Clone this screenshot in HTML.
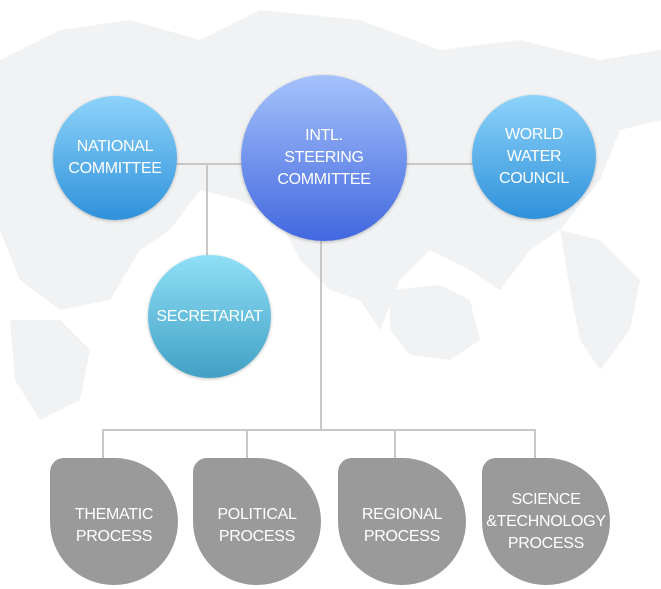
<!DOCTYPE html>
<html><head><style>
body{margin:0;width:661px;height:589px;background:#fff;position:relative;overflow:hidden;font-family:"Liberation Sans",sans-serif}
.c{position:absolute;border-radius:50%;color:#fff;display:flex;align-items:center;justify-content:center;text-align:center;font-size:16px;line-height:22px;box-shadow:0 1px 3px rgba(0,0,0,.25);letter-spacing:-0.3px}
.l{position:absolute;background:#c8c8c8}
.b{position:absolute;width:128px;height:127px;top:458px;background:#9a9a9a;border-radius:14px 64px 64px 64px;color:#fff;display:flex;align-items:center;justify-content:center;text-align:center;font-size:16px;line-height:22px;letter-spacing:-0.3px;box-sizing:border-box;padding-top:8px}
</style></head><body>
<svg style="position:absolute;left:0;top:0" width="661" height="589">
<g fill="#f1f2f3">
<path d="M0 60 L60 30 L130 20 L200 40 L260 10 L360 20 L440 50 L520 40 L600 60 L661 50 L661 120 L620 130 L600 180 L560 230 L530 250 L500 290 L470 270 L430 250 L400 280 L380 330 L360 300 L330 290 L300 260 L280 220 L240 200 L200 190 L170 230 L140 250 L110 300 L60 310 L20 280 L0 230 Z"/>
<path d="M390 290 L440 285 L470 300 L480 340 L450 360 L410 355 L390 330 Z"/>
<path d="M560 230 L600 240 L640 280 L630 330 L600 370 L580 340 L570 290 Z"/>
<path d="M10 320 L60 320 L90 350 L80 400 L40 420 L15 380 Z"/>
</g>
</svg>
<div class="l" style="left:176px;top:163px;width:70px;height:2px"></div>
<div class="l" style="left:400px;top:163px;width:76px;height:2px"></div>
<div class="l" style="left:206px;top:163px;width:2px;height:94px"></div>
<div class="l" style="left:320px;top:238px;width:2px;height:193px"></div>
<div class="l" style="left:102px;top:429px;width:434px;height:2px"></div>
<div class="l" style="left:102px;top:429px;width:2px;height:32px"></div>
<div class="l" style="left:246px;top:429px;width:2px;height:32px"></div>
<div class="l" style="left:394px;top:429px;width:2px;height:32px"></div>
<div class="l" style="left:534px;top:429px;width:2px;height:32px"></div>
<div class="c" style="left:53px;top:96px;width:124px;height:124px;background:linear-gradient(#8dd3fa,#2f91da)">NATIONAL<br>COMMITTEE</div>
<div class="c" style="left:241px;top:75px;width:166px;height:166px;background:linear-gradient(#a6c2fb,#4168df)">INTL.<br>STEERING<br>COMMITTEE</div>
<div class="c" style="left:472px;top:95px;width:124px;height:124px;background:linear-gradient(#8dd3fa,#2f91da)">WORLD<br>WATER<br>COUNCIL</div>
<div class="c" style="left:148px;top:255px;width:123px;height:123px;background:linear-gradient(#8fe0f7,#42a0c4)">SECRETARIAT</div>
<div class="b" style="left:50px">THEMATIC<br>PROCESS</div>
<div class="b" style="left:193px">POLITICAL<br>PROCESS</div>
<div class="b" style="left:338px">REGIONAL<br>PROCESS</div>
<div class="b" style="left:482px;padding-top:0">SCIENCE<br>&amp;TECHNOLOGY<br>PROCESS</div>
</body></html>
